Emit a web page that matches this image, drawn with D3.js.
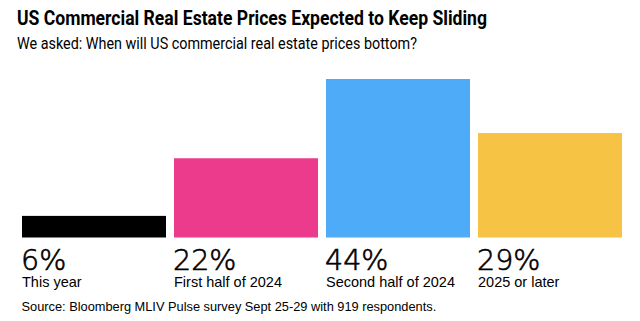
<!DOCTYPE html>
<html>
<head>
<meta charset="utf-8">
<script src="https://cdn.jsdelivr.net/npm/d3@7"></script>
<style>
  body { margin: 0; background: #fff; }
  text { font-family: "Liberation Sans", Arial, sans-serif; fill: #000; }
</style>
</head>
<body>
<div id="chart"></div>
<script>
    var width = 640;
    var height = 321;

    var categories = ["This year", "First half of 2024", "Second half of 2024", "2025 or later"];
    var shares = [6, 22, 44, 29];
    var colors = ["#000000", "#ec3a8c", "#4eabf7", "#f6c344"];

    var svg = d3.select("#chart")
          .append("svg")
          .attr("width", width)
          .attr("height", height);

    // bloomberg fonts are narrower, squeeze to the reference widths
    svg.append("text")
       .attr("x", 17)
       .attr("y", 25)
       .attr("font-size", 19.5)
       .attr("font-weight", "bold")
       .attr("textLength", 470)
       .attr("lengthAdjust", "spacingAndGlyphs")
       .style("font-family", "Roboto, sans-serif")
       .text("US Commercial Real Estate Prices Expected to Keep Sliding");

    svg.append("text")
       .attr("x", 17)
       .attr("y", 49)
       .attr("font-size", 15.8)
       .attr("textLength", 400)
       .attr("lengthAdjust", "spacingAndGlyphs")
       .style("font-family", "Roboto, sans-serif")
       .text("We asked: When will US commercial real estate prices bottom?");

    var x = d3.scaleBand()
      .domain(categories)
      .range([22, 622])
      .paddingInner(8 / 152)
      .paddingOuter(0);

    var y = d3.scaleLinear()
      .domain([0, 44])
      .range([237.5, 79]);

    var bars = svg.append("g");

    bars.selectAll("rect")
      .data(categories)
      .enter()
      .append("rect")
      .attr("x", function(d){ return x(d); })
      .attr("y", function(d, i){ return y(shares[i]); })
      .attr("width", x.bandwidth())
      .attr("height", function(d, i){ return y(0) - y(shares[i]); })
      .attr("fill", function(d, i){ return colors[i]; });

    bars.selectAll("text.pct")
      .data(categories)
      .enter()
      .append("text")
      .attr("class", "pct")
      .attr("x", function(d){ return x(d) - 1; })
      .attr("y", 269.5)
      .attr("font-size", 28.5)
      .attr("stroke", "#000")
      .attr("stroke-width", 0.6)
      .style("font-family", "'DejaVu Sans', sans-serif")
      .style("font-weight", 200)
      .text(function(d, i){ return shares[i] + "%"; });

    bars.selectAll("text.cat")
      .data(categories)
      .enter()
      .append("text")
      .attr("class", "cat")
      .attr("x", function(d){ return x(d); })
      .attr("y", 287)
      .attr("font-size", 14.5)
      .text(function(d){ return d; });

    svg.append("text")
       .attr("x", 21.5)
       .attr("y", 311)
       .attr("font-size", 12.8)
       .text("Source: Bloomberg MLIV Pulse survey Sept 25-29 with 919 respondents.");
</script>
</body>
</html>
